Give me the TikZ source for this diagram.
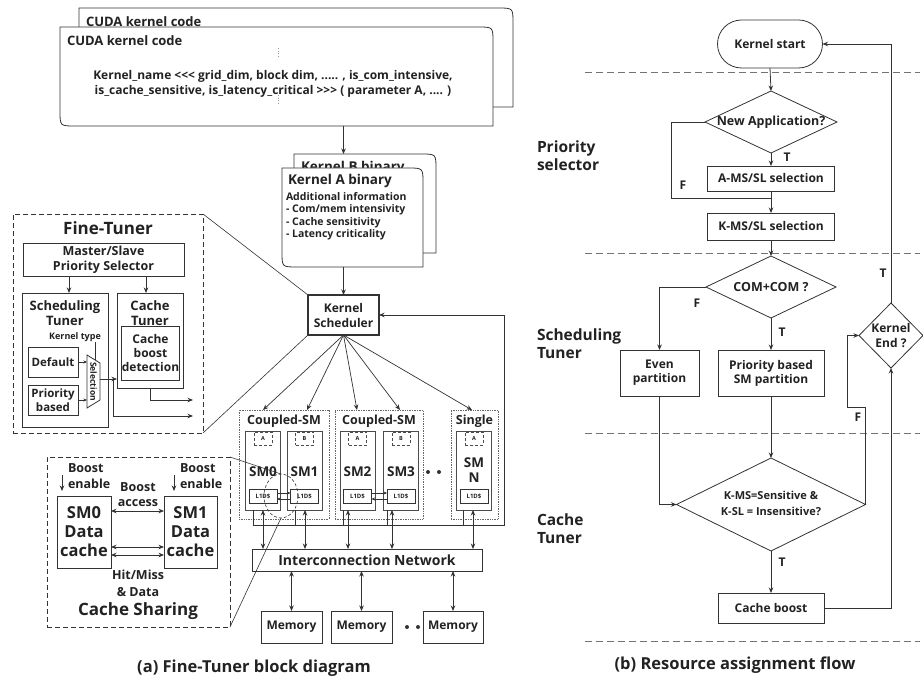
\documentclass[tikz,border=0pt]{standalone}
\usepackage{fontspec}
\setmainfont{Open Sans}
\usetikzlibrary{arrows.meta,shapes.geometric}
\newcommand\fz[2]{\fontsize{#1}{#2}\selectfont}
\definecolor{ink}{HTML}{222222}
\definecolor{lin}{HTML}{333333}
\begin{document}
\begin{tikzpicture}[x=1pt,y=-1pt,
  ln/.style={draw=lin, line width=0.8pt},
  box/.style={draw=lin, line width=0.8pt, fill=white, inner sep=0pt, outer sep=0pt, align=center, text=ink, font=\bfseries},
  txt/.style={inner sep=0pt, outer sep=0pt, align=center, text=ink, font=\bfseries},
  arr/.style={draw=lin, line width=0.8pt, -{Stealth[length=5.5pt,width=4.5pt]}},
  sarr/.style={draw=lin, line width=0.6pt, -{Stealth[length=3.5pt,width=3pt]}},
  darr/.style={draw=lin, line width=0.8pt, {Stealth[length=5.5pt,width=4.5pt]}-{Stealth[length=5.5pt,width=4.5pt]}},
  sep/.style={draw=black!55, line width=0.8pt, dash pattern=on 7pt off 4pt},
  dbox/.style={draw=lin, line width=0.7pt, dash pattern=on 5pt off 3pt, inner sep=0pt, outer sep=0pt},
  grp/.style={draw=black!60, line width=0.7pt, densely dotted, inner sep=0pt, outer sep=0pt},
  dia/.style={diamond, draw=lin, line width=0.8pt, inner sep=0pt, outer sep=0pt, fill=white}
]
\useasboundingbox (0,0) rectangle (923,684);
\fill[white] (0,0) rectangle (923,684);

% ---------------- CUDA kernel code ----------------
\draw[ln,fill=white] (79,8) -- (498,8) .. controls (513,8) .. (513,23) -- (513,107) -- (79,107) -- cycle;
\node[txt,anchor=west,font=\bfseries\fz{13}{16}] (cudaBt) at (86,22) {CUDA kernel code};
\draw[ln,fill=white] (60,27) -- (478,27) .. controls (493,27) .. (493,42) -- (493,126) -- (75,126) .. controls (60,126) .. (60,111) -- cycle;
\node[txt,anchor=west,font=\bfseries\fz{13}{16}] (cudaFt) at (67,41) {CUDA kernel code};
\node[txt,font=\bfseries\fz{12}{15}] (kname) at (273,83.5) {Kernel\_name <{}<{}< grid\_dim, block dim, ..... , is\_com\_intensive,\\is\_cache\_sensitive, is\_latency\_critical >{}>{}> ( parameter A, .... )};
\draw[black!40, line width=0.6pt, dotted] (278,48) -- (278,57);
\draw[black!40, line width=0.6pt, dotted] (278,95) -- (278,103);
\coordinate (cudaOut) at (343.5,126);

% ---------------- Kernel binaries ----------------
\draw[ln,fill=white] (294,154) -- (421,154) .. controls (436,154) .. (436,169) -- (436,253) -- (294,253) -- cycle;
\node[txt,anchor=west,font=\bfseries\fz{13.5}{16}] (kbt) at (301,168) {Kernel B binary};
\coordinate (kbIn) at (343.5,154);
\draw[ln,fill=white] (282,168) -- (408,168) .. controls (423,168) .. (423,183) -- (423,267) -- (297,267) .. controls (282,267) .. (282,252) -- cycle;
\node[txt,anchor=west,font=\bfseries\fz{13.5}{16}] (kat) at (288,181) {Kernel A binary};
\node[txt,anchor=north west,align=left,font=\bfseries\fz{10.5}{12.6}] (kai) at (286,192) {Additional information\\- Com/mem intensivity\\- Cache sensitivity\\- Latency criticality};
\coordinate (kaOut) at (343.5,267);
\draw[arr] (cudaOut) -- (kbIn);

% ---------------- Kernel Scheduler ----------------
\node[box,line width=1.4pt,minimum width=71pt,minimum height=40pt,font=\bfseries\fz{12}{15}] (ks) at (343.5,315) {Kernel\\Scheduler};
\draw[arr] (kaOut) -- (ks.north);

% ---------------- Fine-Tuner ----------------
\node[dbox,minimum width=190pt,minimum height=219pt] (ft) at (108,323.5) {};
\node[txt,font=\bfseries\fz{17}{20}] (ftt) at (108,228) {Fine-Tuner};
\node[box,minimum width=161pt,minimum height=33pt,font=\bfseries\fz{12.5}{15}] (msps) at (103.5,259.5) {Master/Slave\\Priority Selector};
\node[box,minimum width=86pt,minimum height=134pt] (st) at (65,360) {};
\node[txt,font=\bfseries\fz{13}{14.5}] (stt) at (65,313) {Scheduling\\Tuner};
\node[box,minimum width=66pt,minimum height=95pt] (ct) at (150,340.5) {};
\node[txt,font=\bfseries\fz{13}{14.5}] (ctt) at (150,313) {Cache\\Tuner};
\node[box,minimum width=57pt,minimum height=54pt,font=\bfseries\fz{12}{14}] (cbd) at (150.5,353) {Cache\\boost\\detection};
\coordinate (m1) at (69,276);
\coordinate (m2) at (146,276);
\draw[arr] (m1) -- (m1 |- st.north);
\draw[arr] (m2) -- (m2 |- ct.north);
\node[txt,font=\bfseries\fz{9}{11}] (kt) at (75,337) {Kernel type};
\node[box,minimum width=50pt,minimum height=30pt,font=\bfseries\fz{11.5}{14}] (def) at (53,362) {Default};
\node[box,minimum width=50pt,minimum height=30pt,font=\bfseries\fz{11.5}{13.5}] (prio) at (53,400) {Priority\\based};
\draw[ln,fill=white] (87,355) -- (100,363) -- (100,400) -- (87,408) -- cycle;
\node[txt,rotate=-90,font=\bfseries\fz{8.5}{10}] (selt) at (93.5,381.5) {Selection};
\coordinate (ktL) at (95,342);
\coordinate (ktM) at (95,360);
\draw[ln,line width=0.6pt] (ktL) -- (ktM);
\coordinate (muxL1) at (87,362);
\coordinate (muxL2) at (87,400);
\draw[sarr] (def.east) -- (muxL1);
\draw[sarr] (prio.east) -- (muxL2);
\coordinate (muxO) at (100,379);
\coordinate (j1) at (113,379);
\coordinate (o1) at (193,416);
\coordinate (o2) at (193,400);
\draw[arr] (muxO) -- (muxO -| ct.west);
\draw[arr] (j1) |- (o1);
\draw[arr] (ct.south) |- (o2);
\draw[lin,line width=0.6pt] (ft.north east) -- (ks.north west);
\draw[lin,line width=0.6pt] (ft.south east) -- (ks.south west);

% ---------------- SM groups ----------------
\node[grp,minimum width=90pt,minimum height=109pt] (g1) at (284,464.5) {};
\node[grp,minimum width=88pt,minimum height=109pt] (g2) at (379,464.5) {};
\node[grp,minimum width=47pt,minimum height=109pt] (g3) at (474.5,464.5) {};
\node[txt,font=\bfseries\fz{12.5}{15}] (g1t) at (284,421) {Coupled-SM};
\node[txt,font=\bfseries\fz{12.5}{15}] (g2t) at (379,421) {Coupled-SM};
\node[txt,font=\bfseries\fz{12.5}{15}] (g3t) at (474.5,421) {Single};

\foreach \n/\x/\l in {0/263/A,1/304.5/B,2/357.5/A,3/401/B,4/474/A}{
  \node[box,draw=black!70,minimum width=35pt,minimum height=79pt] (sm\n) at (\x,470.5) {};
  \node[draw=black!70,line width=0.6pt,densely dashed,inner sep=0pt,minimum width=18pt,minimum height=13pt,text=ink,font=\bfseries\fz{5.5}{7}] (tag\n) at (\x,438.5) {\l};
  \node[box,minimum width=28pt,minimum height=14pt,font=\bfseries\fz{6}{7}] (l\n) at (\x,496) {L1D\$};
}
\node[txt,font=\bfseries\fz{13.5}{15}] (sm0t) at (263,472) {SM0};
\node[txt,font=\bfseries\fz{13.5}{15}] (sm1t) at (304.5,472) {SM1};
\node[txt,font=\bfseries\fz{13.5}{15}] (sm2t) at (357.5,472) {SM2};
\node[txt,font=\bfseries\fz{13.5}{15}] (sm3t) at (401,472) {SM3};
\node[txt,font=\bfseries\fz{13.5}{15}] (sm4t) at (474,470.5) {SM\\N};
\fill[lin] (428,472) circle (2);
\fill[lin] (439,472) circle (2);

\coordinate (ya) at (0,493);
\coordinate (yb) at (0,499);
\draw[sarr] (l0.east |- ya) -- (l1.west |- ya);
\draw[sarr] (l1.west |- yb) -- (l0.east |- yb);
\draw[sarr] (l2.east |- ya) -- (l3.west |- ya);
\draw[sarr] (l3.west |- yb) -- (l2.east |- yb);

% scheduler to SMs
\coordinate (t0) at (263,410);
\coordinate (t1) at (307,410);
\coordinate (t2) at (357,410);
\coordinate (t3) at (400,410);
\coordinate (t4) at (472,410);
\foreach \t in {t0,t1,t2,t3,t4}{ \draw[arr,line width=0.7pt] (ks.south) -- (\t); }

% bus back to scheduler
\coordinate (bus0) at (253,525);
\coordinate (fb) at (504,525);
\draw[arr] (bus0) -- (fb) |- (ks.east);
\foreach \x in {253,295,343,387,463}{ \draw[ln] (\x,510) -- (\x,525); }

% interconnect
\node[box,minimum width=230pt,minimum height=22pt,font=\bfseries\fz{14}{16}] (ic) at (367,560) {Interconnection Network};
\coordinate (a0) at (263,510);
\coordinate (a1) at (305,510);
\coordinate (a2) at (348,510);
\coordinate (a3) at (392,510);
\coordinate (a4) at (473,510);
\foreach \a in {a0,a1,a2,a3,a4}{ \draw[darr] (\a) -- (\a |- ic.north); }

% memories
\node[box,minimum width=61pt,minimum height=32pt,font=\bfseries\fz{12}{14}] (mem1) at (291.5,627) {Memory};
\node[box,minimum width=61pt,minimum height=32pt,font=\bfseries\fz{12}{14}] (mem2) at (361.5,627) {Memory};
\node[box,minimum width=60pt,minimum height=32pt,font=\bfseries\fz{12}{14}] (mem3) at (453,627) {Memory};
\foreach \m in {mem1,mem2,mem3}{ \draw[darr] (\m.north |- ic.south) -- (\m.north); }
\fill[lin] (407,627) circle (2);
\fill[lin] (418,627) circle (2);

% ---------------- Cache sharing ----------------
\node[dbox,minimum width=183pt,minimum height=170pt] (csd) at (138.5,542) {};
\node[box,minimum width=54pt,minimum height=72pt,font=\bfseries\fz{16.5}{19}] (sm0dc) at (84,532) {SM0\\Data\\cache};
\node[box,minimum width=53pt,minimum height=72pt,font=\bfseries\fz{16.5}{19}] (sm1dc) at (190.5,532) {SM1\\Data\\cache};
\coordinate (be1) at (62,475);
\coordinate (be2) at (174,475);
\draw[arr] (be1) -- ++(0,16);
\draw[arr] (be2) -- ++(0,16);
\node[txt,anchor=west,align=left,font=\bfseries\fz{12.5}{16}] (be1t) at (68,476) {Boost\\enable};
\node[txt,anchor=west,align=left,font=\bfseries\fz{12.5}{16}] (be2t) at (180,476) {Boost\\enable};
\node[txt,font=\bfseries\fz{12.5}{15}] (bat) at (138,494.5) {Boost\\access};
\coordinate (yc) at (0,511);
\coordinate (yd) at (0,547);
\coordinate (ye) at (0,555);
\draw[darr] (sm0dc.east |- yc) -- (sm1dc.west |- yc);
\draw[darr] (sm0dc.east |- yd) -- (sm1dc.west |- yd);
\draw[darr] (sm0dc.east |- ye) -- (sm1dc.west |- ye);
\node[txt,font=\bfseries\fz{12.5}{17}] (hmt) at (138,583.5) {Hit/Miss\\\& Data};
\node[txt,font=\bfseries\fz{17}{20}] (cst) at (138,611) {Cache Sharing};
\node[ellipse,draw=lin,line width=0.6pt,dash pattern=on 3pt off 2pt,inner sep=0pt,outer sep=0pt,minimum width=34pt,minimum height=44pt] (zc) at (281,496) {};
\draw[lin,line width=0.6pt] (csd.north east) -- (zc.north);
\draw[lin,line width=0.6pt] (csd.south east) -- (zc.south);

\node[txt,font=\bfseries\fz{16.5}{19}] (capa) at (254,668) {(a) Fine-Tuner block diagram};

% ---------------- Right: flow ----------------
\draw[sep] (585,72) -- (920,72);
\draw[sep] (585,253) -- (920,253);
\draw[sep] (585,433) -- (920,433);
\draw[sep] (585,641) -- (920,641);

\node[txt,anchor=west,align=left,font=\bfseries\fz{15.5}{18}] (lps) at (537,156) {Priority\\selector};
\node[txt,anchor=west,align=left,font=\bfseries\fz{15.5}{18}] (lst) at (537,344) {Scheduling\\Tuner};
\node[txt,anchor=west,align=left,font=\bfseries\fz{15.5}{18}] (lct) at (537,529) {Cache\\Tuner};

\node[box,rounded corners=24pt,minimum width=105pt,minimum height=48pt,font=\bfseries\fz{12}{14}] (kst) at (770,44) {Kernel start};
\node[dia,minimum width=132pt,minimum height=62pt] (d1) at (771,122) {};
\node[txt,font=\bfseries\fz{12.5}{15}] (d1t) at (771,122) {New Application?};
\node[box,minimum width=127pt,minimum height=25pt,font=\bfseries\fz{12}{14}] (ams) at (771,178.5) {A-MS/SL selection};
\node[box,minimum width=127pt,minimum height=27pt,font=\bfseries\fz{12}{14}] (kms) at (771,226.5) {K-MS/SL selection};
\node[dia,minimum width=130pt,minimum height=62pt] (d2) at (771,287) {};
\node[txt,font=\bfseries\fz{12.5}{15}] (d2t) at (771,287) {COM+COM ?};
\node[box,minimum width=79pt,minimum height=46pt,font=\bfseries\fz{12}{14}] (even) at (659.5,373) {Even\\partition};
\node[box,minimum width=106pt,minimum height=46pt,font=\bfseries\fz{12}{14}] (pb) at (771,373) {Priority based\\SM partition};
\node[dia,minimum width=64pt,minimum height=65pt] (d3) at (891,335.5) {};
\node[txt,font=\bfseries\fz{12}{15}] (d3t) at (891,335.5) {Kernel\\End ?};
\node[dia,minimum width=189pt,minimum height=93pt] (d4) at (771,504.5) {};
\node[txt,font=\bfseries\fz{11}{16}] (d4t) at (771,503) {K-MS=Sensitive \&\\K-SL = Insensitive?};
\node[box,minimum width=106pt,minimum height=30pt,font=\bfseries\fz{12}{14}] (cb) at (771,608) {Cache boost};

\draw[arr] (kst.south) -- (d1.north);
\draw[arr] (d1.south) -- (ams.north);
\coordinate (fL) at (671,122);
\coordinate (fJ) at (771,198);
\draw[ln] (d1.west) -- (fL) |- (fJ);
\draw[arr] (ams.south) -- (kms.north);
\draw[arr] (kms.south) -- (d2.north);
\coordinate (f2) at (659.5,287);
\draw[arr] (d2.west) -- (f2) -- (even.north);
\draw[arr] (d2.south) -- (pb.north);
\draw[arr] (pb.south) -- (d4.north);
\draw[arr] (even.south) |- (d4.west);
\draw[arr] (d4.south) -- (cb.north);
\draw[arr] (cb.east) -| (d3.south);
\coordinate (fb2) at (847,407);
\draw[arr] (d4.east) |- (fb2) |- (d3.west);
\draw[arr] (d3.north) |- (kst.east);

\node[txt,font=\bfseries\fz{12}{14}] (lt1) at (787,157) {T};
\node[txt,font=\bfseries\fz{12}{14}] (lf1) at (683,185) {F};
\node[txt,font=\bfseries\fz{12}{14}] (lf2) at (697,303) {F};
\node[txt,font=\bfseries\fz{12}{14}] (lt2) at (782,332) {T};
\node[txt,font=\bfseries\fz{12}{14}] (lt3) at (883,273) {T};
\node[txt,font=\bfseries\fz{12}{14}] (lf3) at (858,417) {F};
\node[txt,font=\bfseries\fz{12}{14}] (lt4) at (782,562) {T};

\node[txt,font=\bfseries\fz{16.5}{19}] (capb) at (735,665) {(b) Resource assignment flow};
\end{tikzpicture}
\end{document}
